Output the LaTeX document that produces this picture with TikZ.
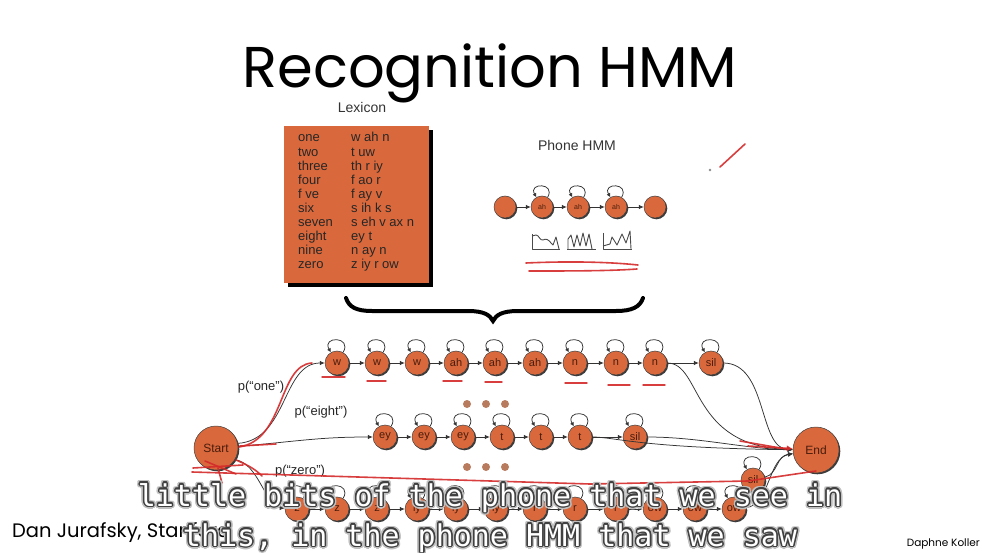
\documentclass[tikz,border=0pt]{standalone}
\usepackage{fontspec}
\setmainfont{Liberation Sans}
\newfontfamily\titlefont{Poppins}
\newfontfamily\subfont{DejaVu Sans Mono}
\usetikzlibrary{arrows.meta,shadows,calc}
\definecolor{hmmorange}{HTML}{D9693C}
\definecolor{inkred}{HTML}{D42A2A}
\definecolor{dotbrown}{HTML}{B97B5E}
\definecolor{edgegray}{HTML}{333333}
\definecolor{statetext}{HTML}{4A1C0C}
\definecolor{glyphgray}{HTML}{4A4A4A}

% white caption text with a dark rim and a soft grey halo
\newcommand\captionline[3]{%
  \foreach \ang in {0,22.5,...,337.5}{\node[subt,text=black!25] at ($(#2)+(\ang:3pt)$) {#3};}
  \foreach \ang in {0,30,...,330}{\node[subt,text=black!75] at ($(#2)+(\ang:1.5pt)$) {#3};}
  \node[subt,text=white] (#1) at (#2) {#3};}

\begin{document}
\begin{tikzpicture}[x=1pt,y=-1pt,
  state/.style={circle, fill=hmmorange, draw=black!75, line width=0.5pt,
    minimum size=24pt, inner sep=0pt, text=statetext,
    font=\fontsize{11}{11}\selectfont,
    drop shadow={shadow xshift=1.3pt, shadow yshift=-1.3pt, fill=black!85, opacity=0.9}},
  bigstate/.style={state, minimum size=44pt, font=\fontsize{12}{12}\selectfont},
  pstate/.style={state, minimum size=22pt, font=\fontsize{7}{7}\selectfont},
  arr/.style={draw=edgegray, line width=0.75pt, -{Latex[length=5pt,width=4.5pt]}},
  selfloop/.style={draw=edgegray, line width=0.75pt, -{Latex[length=4pt,width=4pt]}},
  ink/.style={draw=inkred, line width=1.6pt, line cap=round, line join=round, opacity=0.9},
  glyph/.style={draw=glyphgray, line width=0.9pt, line join=round},
  lexword/.style={anchor=base west, inner sep=0pt, text=black!85, font=\fontsize{13}{13}\selectfont},
  plabel/.style={inner sep=0pt, text=black!85, font=\fontsize{13}{13}\selectfont},
  subt/.style={anchor=base, inner sep=0pt, font=\subfont\fontsize{30}{30}\selectfont},
  ]
\fill[white] (0,0) rectangle (982,553);
\useasboundingbox (0,0) rectangle (982,553);

% ---------- title and headings ----------
\node[anchor=base, inner sep=0pt, font=\titlefont\fontsize{57.5}{58}\selectfont] (title) at (490,88) {Recognition HMM};
\node[anchor=base, inner sep=0pt, text=black!80, font=\fontsize{14}{14}\selectfont] (lexhead) at (362,113) {Lexicon};
\node[anchor=base, inner sep=0pt, text=black!80, font=\fontsize{14}{14}\selectfont] (phonehead) at (577,151) {Phone HMM};

% ---------- lexicon card ----------
\fill[black] (288,130) rectangle (433,287);
\fill[hmmorange] (284,126) rectangle (429,283);
\foreach \w/\p [count=\i] in {one/w ah n, two/t uw, three/th r iy, four/f ao r, f ve/f ay v,
    six/s ih k s, seven/s eh v ax n, eight/ey t, nine/n ay n, zero/z iy r ow}{
  \node[lexword] (lw\i) at (298,{142+14.1*(\i-1)}) {\w};
  \node[lexword] (lp\i) at (351,{142+14.1*(\i-1)}) {\p};
}

% ---------- phone HMM ----------
\node[pstate] (p0) at (505,207) {};
\node[pstate] (p1) at (542,207) {ah};
\node[pstate] (p2) at (578,207) {ah};
\node[pstate] (p3) at (616,207) {ah};
\node[pstate] (p4) at (655,207) {};
\foreach \a/\b in {p0/p1,p1/p2,p2/p3,p3/p4} \draw[arr] (\a) -- (\b);
\foreach \n in {p1,p2,p3}
  \draw[selfloop] (\n.60) .. controls +(60:17pt) and +(120:17pt) .. (\n.120);

% output spectra sketches
\draw[glyph] (532,234) -- (532,249) -- (560,249);
\draw[glyph] (532,236) -- (536,235) .. controls (539,235) and (540,241) .. (543,240)
  .. controls (546,238) and (549,240) .. (551,243) -- (553,245) -- (556,237) -- (559,249);
\draw[glyph] (567,249) -- (596,249);
\draw[glyph] (568,249) -- (568,239) -- (571,235) -- (574,247) -- (577,235) -- (580,246)
  -- (583,233) -- (586,246) -- (589,234) -- (592,249);
\draw[glyph] (603,233) -- (603,249) -- (632,249);
\draw[glyph] (603,246) -- (610,244) -- (612,237) -- (617,245) -- (622,234) -- (626,243) -- (630,231) -- (631,249);

% ---------- brace ----------
\draw[line width=4pt, line cap=round] (346,298) .. controls (349,307) and (356,311) .. (372,311)
  -- (468,311) .. controls (484,311) and (490,315) .. (493,321)
  .. controls (496,315) and (502,311) .. (518,311) -- (616,311)
  .. controls (632,311) and (640,307) .. (643,298);

% ---------- word HMM ----------
\node[bigstate] (start) at (216,448) {Start};
\node[bigstate, minimum size=46pt] (end) at (816,450) {End};

\foreach \n/\x/\t in {w1/337/w, w2/377/w, w3/417/w, ah1/456/ah, ah2/495/ah, ah3/535/ah,
    n1/575/n, n2/616/n, n3/655/n, silA/711/sil}
  \node[state] (\n) at (\x,363) {\t};
\foreach \n/\x/\t in {ey1/385/ey, ey2/424/ey, ey3/463/ey, t1/502/t, t2/541/t, t3/580/t, silB/635/sil}
  \node[state] (\n) at (\x,437) {\t};
\foreach \n/\x/\t in {z1/297/z, z2/337/z, z3/377/z, iy1/417/iy, iy2/456/iy, iy3/496/iy,
    r1/535/r, r2/575/r, r3/616/r, ow1/655/ow, ow2/695/ow, ow3/734/ow}
  \node[state] (\n) at (\x,509) {\t};
\node[state] (silC) at (753,480) {sil};

\foreach \a/\b in {w1/w2,w2/w3,w3/ah1,ah1/ah2,ah2/ah3,ah3/n1,n1/n2,n2/n3,n3/silA,
    ey1/ey2,ey2/ey3,ey3/t1,t1/t2,t2/t3,t3/silB,
    z1/z2,z2/z3,z3/iy1,iy1/iy2,iy2/iy3,iy3/r1,r1/r2,r2/r3,r3/ow1,ow1/ow2,ow2/ow3,ow3/silC}
  \draw[arr] (\a) -- (\b);
\foreach \n in {w1,w2,w3,ah1,ah2,ah3,n1,n2,n3,silA,ey1,ey2,ey3,t1,t2,t3,silB,
    z1,z2,z3,iy1,iy2,iy3,r1,r2,r3,ow1,ow2,ow3,silC}
  \draw[selfloop] (\n.60) .. controls +(60:19pt) and +(120:19pt) .. (\n.120);

% entry transitions
\draw[arr] (start.12) .. controls (288,440) and (282,363) .. (w1);
\draw[arr] (start.4) .. controls (300,441) and (320,437) .. (ey1);
\draw[arr] (start.-32) .. controls (258,462) and (266,507) .. (z1);

% exit transitions
\draw[arr] (n3) .. controls (702,363) and (690,447) .. (end);
\draw[arr] (silA) .. controls (768,363) and (758,449) .. (end);
\draw[arr] (t3) .. controls (615,437) and (640,448) .. (end);
\draw[arr] (silB) .. controls (700,437) and (745,449) .. (end);
\draw[arr] (ow3) .. controls (770,505) and (768,458) .. (end);
\draw[arr] (silC) .. controls (778,474) and (776,456) .. (end);

% word probabilities
\node[plabel] (pone) at (261,387) {p(“one”)};
\node[plabel] (peight) at (321,412) {p(“eight”)};
\node[plabel] (pzero) at (300,471) {p(“zero”)};

% elided rows
\foreach \x in {467,486,505}{
  \fill[dotbrown] (\x,404) circle (4pt);
  \fill[dotbrown] (\x,467) circle (4pt);
}

% ---------- hand-drawn ink ----------
\draw[ink] (526,263) .. controls (570,261) and (610,262) .. (638,265);
\draw[ink] (529,271) .. controls (570,271) and (610,271) .. (637,269);
\draw[ink] (720,167) -- (745,144);
\fill[black!45] (710,170) circle (1.3pt);

\draw[ink] (239,447) .. controls (285,440) and (278,365) .. (312,363);
\draw[ink] (240,446) -- (276,444);
\draw[ink] (236,460) .. controls (250,466) and (256,470) .. (262,476);
\draw[ink] (193,468) -- (243,465);
\draw[ink] (205,461) -- (236,474);
\draw[ink] (218,468) -- (222,483);
\draw[ink] (192,472) -- (590,484) -- (748,481) -- (816,471);
\draw[ink] (740,441) -- (786,449);
\draw[ink, -{Latex[length=6pt,width=6pt]}] (748,446) -- (end);

\foreach \xa/\xb/\yy in {322/345/377, 367/386/381, 443/462/381, 485/502/382,
    565/587/383, 608/630/385, 643/665/385}
  \draw[ink, line width=1.4pt] (\xa,\yy) -- (\xb,\yy);

% ---------- credits ----------
\node[anchor=base west, inner sep=0pt, font=\titlefont\fontsize{19.5}{20}\selectfont] (credit) at (12,537) {Dan Jurafsky, Stanford};
\node[anchor=base east, inner sep=0pt, font=\titlefont\fontsize{10.5}{10.5}\selectfont] (credit2) at (980,546) {Daphne Koller};

% ---------- captions ----------
\captionline{capA}{490,506}{little bits of the phone that we see in}
\captionline{capB}{490,546}{this, in the phone HMM that we saw}
\end{tikzpicture}
\end{document}
